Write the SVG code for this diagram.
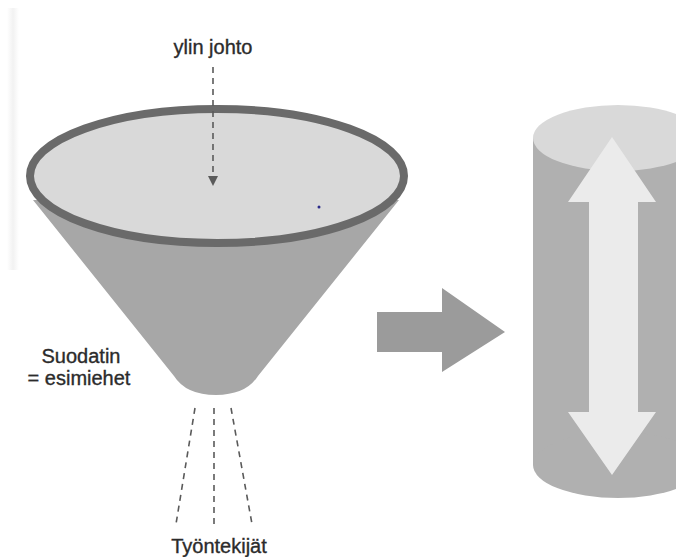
<svg xmlns="http://www.w3.org/2000/svg" width="676" height="557" viewBox="0 0 676 557">
<defs>
<style>
.lbl{font-family:"Liberation Sans",Arial,sans-serif;font-size:20px;fill:#2b2b2b;stroke:#2b2b2b;stroke-width:0.35;text-anchor:middle}
.dash{stroke:#5a5a5a;stroke-width:1.6;stroke-dasharray:6 5;fill:none}
</style>
<linearGradient id="band" x1="0" y1="0" x2="1" y2="0">
<stop offset="0" stop-color="#ffffff"/>
<stop offset="0.5" stop-color="#f2f2f2"/>
<stop offset="1" stop-color="#ffffff"/>
</linearGradient>
<marker id="ah" markerWidth="10" markerHeight="11" refX="10" refY="5" orient="auto" markerUnits="userSpaceOnUse">
<path d="M0,0 L10,5 L0,10 Z" fill="#5a5a5a"/>
</marker>
</defs>
<rect width="676" height="557" fill="#ffffff"/>
<rect x="7" y="8" width="12" height="262" fill="url(#band)"/>
<g id="funnel">
<path d="M33,200 L174,376 Q186,395 216,395 Q246,395 258,376 L399,200 Z" fill="#a7a7a7"/>
<ellipse cx="217" cy="176" rx="187" ry="67" fill="#d9d9d9" stroke="#6a6a6a" stroke-width="8"/>
<circle cx="319" cy="207" r="1.5" fill="#2a2a8a"/>
</g>
<g id="cylinder">
<rect x="533" y="138" width="170" height="327" fill="#b0b0b0"/>
<ellipse cx="618" cy="465" rx="85" ry="33" fill="#b0b0b0"/>
<ellipse cx="618" cy="138" rx="85" ry="33" fill="#d9d9d9"/>
<path d="M612,137 L656,202 L638,202 L638,412 L656,412 L612,475 L568,412 L589,412 L589,202 L568,202 Z" fill="#ebebeb"/>
</g>
<g id="bigarrow">
<path d="M377,312 L442,312 L442,288 L505,332 L442,372 L442,352 L377,352 Z" fill="#9b9b9b"/>
</g>
<g id="connectors">
<line class="dash" x1="213" y1="67" x2="213" y2="186" marker-end="url(#ah)"/>
<line class="dash" x1="195" y1="408" x2="176" y2="524"/>
<line class="dash" x1="214" y1="408" x2="214" y2="524"/>
<line class="dash" x1="231" y1="408" x2="252" y2="524"/>
</g>
<g id="labels">
<text class="lbl" x="213" y="54">ylin johto</text>
<text class="lbl" x="81" y="363">Suodatin</text>
<text class="lbl" x="79" y="385">= esimiehet</text>
<text class="lbl" x="219" y="553">Työntekijät</text>
</g>
</svg>
